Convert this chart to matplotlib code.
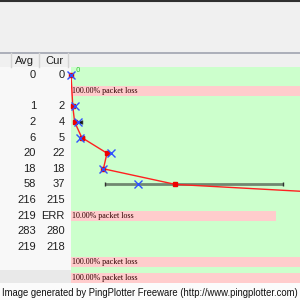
import matplotlib.pyplot as plt
import matplotlib.transforms as mtransforms
import numpy as np

# one row per hop
avg = [0, np.nan, 1, 2, 6, 20, 18, 58, 216, 219, 283, 219, np.nan, np.nan]
cur = [0, np.nan, 2, 4, 5, 22, 18, 37, 215, np.nan, 280, 218, np.nan, np.nan]
avg_text = ["0", "", "1", "2", "6", "20", "18", "58", "216", "219", "283", "219", "", ""]
cur_text = ["0", "", "2", "4", "5", "22", "18", "37", "215", "ERR", "280", "218", "", ""]
lo = [np.nan, np.nan, np.nan, 2, 5, np.nan, np.nan, 19, np.nan, np.nan, np.nan, np.nan, np.nan, np.nan]
hi = [np.nan, np.nan, np.nan, 6, 7, np.nan, np.nan, 118, np.nan, np.nan, np.nan, np.nan, np.nan, np.nan]
loss = [0, 100, 0, 0, 0, 0, 0, 0, 0, 10, 0, 0, 100, 100]
loss_span = [0, 200, 0, 0, 0, 0, 0, 0, 0, 114, 0, 0, 200, 200]
headers = ["Avg", "Cur"]
footer = "Image generated by PingPlotter Freeware (http://www.pingplotter.com)"

narrow = ["Liberation Sans Narrow", "Liberation Sans", "DejaVu Sans"]

fig = plt.figure(figsize=(3, 3), dpi=100, facecolor="#f0f0f0")

# window chrome in pixel coordinates
bg = fig.add_axes([0, 0, 1, 1], zorder=0)
bg.set_xlim(0, 300)
bg.set_ylim(300, 0)
bg.axis("off")
bg.axhline(0.5, color="#303030", lw=1.5)
bg.axhline(52.5, color="#a0a4b0", lw=1.2)
bg.axhspan(67, 300, xmin=0, xmax=71 / 300, color="#f8f8f8", lw=0)
bg.axhspan(270, 300, xmin=0, xmax=71 / 300, color="#e9e9e9", lw=0)
for sx in [11, 39, 68]:
    bg.plot([sx, sx], [53, 67], color="#d4d4d4", lw=1)
bg.text(24, 60.5, headers[0], ha="center", va="center", fontsize=8, color="#202020", family=narrow)
bg.text(54, 60.5, headers[1], ha="center", va="center", fontsize=8, color="#202020", family=narrow)

# graph area
ax = fig.add_axes([71 / 300, 1 - 285.8 / 300, 229 / 300, 218.4 / 300], zorder=2)
ax.set_facecolor("#ccffcc")
ax.set_xlim(0, 229 / 1.8)
ax.set_ylim(13.5, -0.5)
ax.set_xticks([])
ax.set_yticks([])
for s in ax.spines.values():
    s.set_visible(False)

rows = np.arange(len(avg))
for r in rows:
    if loss[r] > 0:
        ax.barh(r, loss_span[r], height=0.64, left=0, color="#ffcccc", lw=0)
        ax.text(0.6, r, f"{loss[r]:.2f}% packet loss", fontsize=5.8, va="center",
                family=["Liberation Serif", "DejaVu Serif"], color="#300000")

# min / max bars
for r in rows:
    if not np.isnan(lo[r]):
        c = "#708870" if hi[r] - lo[r] > 20 else "#101010"
        ax.plot([lo[r], hi[r]], [r, r], color=c, lw=2, solid_capstyle="butt")
        ax.plot([lo[r], hi[r]], [r, r], "|", color="#303030", ms=3, mew=1)

# average line, skipping lost hops
ok = ~np.isnan(np.array(avg, dtype=float)) & (np.array(loss) < 100)
ax.plot(np.array(avg)[ok], rows[ok], color="#ff2020", lw=1)
ax.plot(np.array(avg)[ok], rows[ok], "s", color="#ee0000", ms=2.5, clip_on=False)
ax.plot(cur, rows, "x", color="#3050ff", ms=6, mew=1, clip_on=False)
ax.text(2.5, -0.35, "0", color="#30c030", fontsize=5, va="center")

# table values
tr = mtransforms.blended_transform_factory(bg.transData, ax.transData)
for r in rows:
    bg.text(36, r, avg_text[r], transform=tr, ha="right", va="center",
            fontsize=8, color="#202020", family=narrow)
    bg.text(65, r, cur_text[r], transform=tr, ha="right", va="center",
            fontsize=8, color="#202020", family=narrow)

# footer
foot = fig.add_axes([0, 0, 1, 17 / 300], zorder=3)
foot.set_facecolor("#fbfbfb")
foot.set_xticks([])
foot.set_yticks([])
for s in foot.spines.values():
    s.set_visible(False)
foot.text(0.5, 0.42, footer, ha="center", va="center", fontsize=6.85,
          color="#101010", family=narrow)

fig.savefig("out.png", dpi=100, facecolor=fig.get_facecolor())
